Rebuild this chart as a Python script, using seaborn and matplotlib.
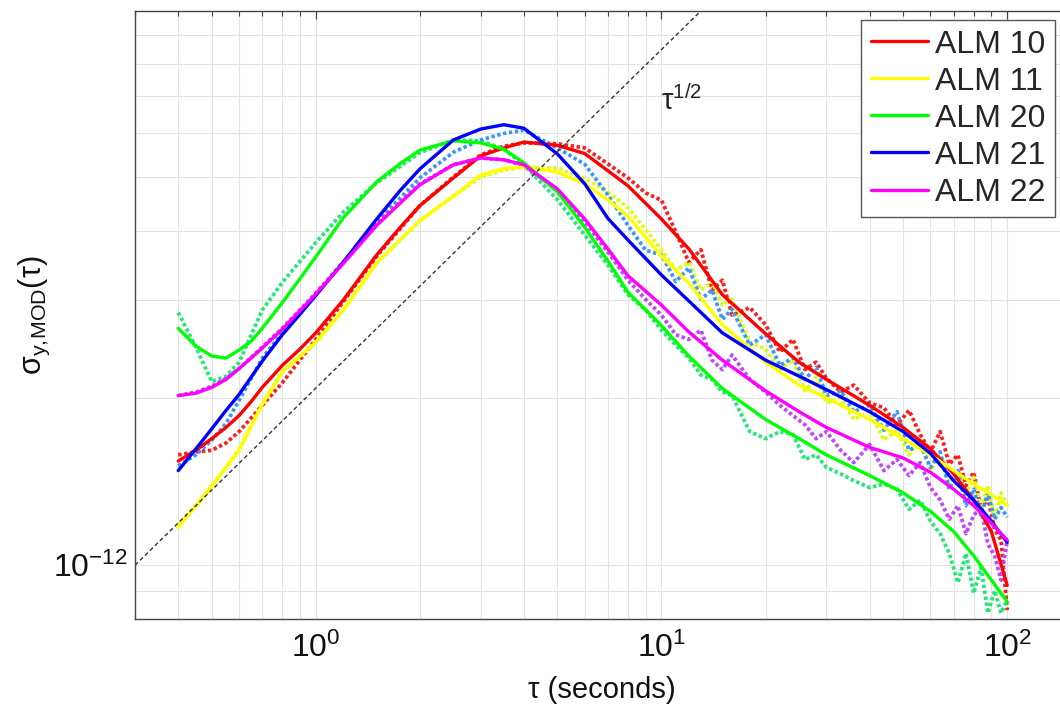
import numpy as np
import pandas as pd
import matplotlib
matplotlib.use("Agg")
import matplotlib.pyplot as plt
import seaborn as sns
from matplotlib.ticker import FixedLocator, LogLocator, NullFormatter
from matplotlib.lines import Line2D

sns.set_theme(style="white")
plt.rcParams['font.family'] = ['Liberation Sans', 'DejaVu Sans']
plt.rcParams['mathtext.fontset'] = 'custom'
plt.rcParams['mathtext.rm'] = 'Liberation Sans'
plt.rcParams['mathtext.it'] = 'Liberation Sans:italic'
plt.rcParams['mathtext.bf'] = 'Liberation Sans:bold'
plt.rcParams['axes.unicode_minus'] = False

# Model fits (sigma in units of 1e-12)
tau_fit = [0.4, 0.45, 0.5, 0.55, 0.6, 0.65, 0.7, 0.8, 0.9, 1.0, 1.2, 1.5, 1.75, 2, 2.5, 3, 3.5, 4,
           5, 6, 7, 8, 10, 12, 15, 20, 25, 30, 40, 50, 60, 70, 80, 90, 100]
fit_alm10 = [1.54, 1.61, 1.69, 1.77, 1.86, 1.97, 2.09, 2.29, 2.45, 2.62, 3.00, 3.62, 4.05, 4.44, 4.98,
             5.46, 5.64, 5.78, 5.70, 5.51, 5.13, 4.82, 4.20, 3.71, 3.07, 2.61, 2.32, 2.16, 1.94, 1.77,
             1.62, 1.46, 1.31, 1.15, 0.92]
fit_alm11 = [1.17, 1.28, 1.39, 1.50, 1.61, 1.78, 1.95, 2.23, 2.38, 2.52, 2.88, 3.50, 3.85, 4.17, 4.62,
             5.04, 5.18, 5.22, 5.10, 4.86, 4.55, 4.25, 3.60, 3.22, 2.71, 2.32, 2.11, 2.00, 1.83, 1.69,
             1.58, 1.48, 1.40, 1.34, 1.28]
fit_alm20 = [2.67, 2.48, 2.38, 2.36, 2.44, 2.53, 2.67, 2.97, 3.28, 3.59, 4.22, 4.90, 5.28, 5.59, 5.81,
             5.76, 5.61, 5.30, 4.70, 4.06, 3.53, 3.10, 2.70, 2.38, 2.08, 1.83, 1.69, 1.58, 1.45, 1.35,
             1.25, 1.15, 1.04, 0.94, 0.86]
fit_alm21 = [1.48, 1.62, 1.76, 1.90, 2.03, 2.18, 2.33, 2.60, 2.83, 3.06, 3.51, 4.20, 4.72, 5.17, 5.83,
             6.10, 6.21, 6.12, 5.50, 4.86, 4.21, 3.85, 3.33, 2.99, 2.62, 2.34, 2.19, 2.07, 1.89, 1.74,
             1.59, 1.42, 1.31, 1.20, 1.10]
fit_alm22 = [2.02, 2.04, 2.09, 2.16, 2.26, 2.36, 2.46, 2.66, 2.87, 3.08, 3.49, 4.09, 4.48, 4.84, 5.26,
             5.41, 5.37, 5.26, 4.76, 4.20, 3.71, 3.32, 2.94, 2.63, 2.34, 2.06, 1.89, 1.77, 1.63, 1.56,
             1.47, 1.37, 1.28, 1.19, 1.11]

# Measured data (sigma in units of 1e-12)
tau_meas = [0.4, 0.45, 0.5, 0.55, 0.6, 0.7, 0.8, 1, 1.2, 1.5, 2, 2.5, 3, 3.5, 4, 5, 6, 7, 8, 9,
            10, 11, 12, 13, 14, 15, 16, 18, 20, 22, 24, 26, 28, 30, 33, 36, 40, 44, 48, 52,
            56, 60, 64, 68, 72, 76, 80, 84, 88, 92, 96, 100]
meas_alm10 = [1.58, 1.60, 1.61, 1.66, 1.74, 1.94, 2.13, 2.55, 2.98, 3.60, 4.44, 5.00, 5.48, 5.68, 5.76,
              5.74, 5.64, 5.28, 4.98, 4.68, 4.54, 3.98, 3.51, 3.70, 3.13, 3.26, 2.82, 2.91, 2.71, 2.42,
              2.55, 2.25, 2.32, 2.17, 2.05, 2.11, 1.96, 1.92, 1.79, 1.90, 1.72, 1.60, 1.74, 1.52, 1.58,
              1.39, 1.47, 1.26, 1.32, 1.16, 1.11, 0.83]
meas_alm11 = [1.18, 1.28, 1.39, 1.50, 1.62, 1.95, 2.23, 2.52, 2.88, 3.50, 4.17, 4.62, 5.00, 5.15, 5.20,
              5.19, 4.97, 4.70, 4.40, 4.02, 3.70, 3.40, 3.51, 3.13, 3.24, 2.94, 3.01, 2.52, 2.45, 2.25,
              2.34, 2.06, 2.18, 1.96, 2.00, 1.83, 1.89, 1.68, 1.75, 1.58, 1.68, 1.48, 1.58, 1.41, 1.48,
              1.34, 1.44, 1.26, 1.39, 1.21, 1.35, 1.28]
meas_alm20 = [2.85, 2.47, 2.14, 2.19, 2.32, 2.88, 3.23, 3.81, 4.32, 4.88, 5.53, 5.83, 5.81, 5.61, 5.26,
              4.55, 3.93, 3.47, 3.07, 2.88, 2.65, 2.49, 2.36, 2.20, 2.16, 2.05, 2.02, 1.74, 1.69, 1.74,
              1.72, 1.55, 1.58, 1.50, 1.46, 1.42, 1.38, 1.40, 1.37, 1.26, 1.31, 1.20, 1.14, 1.05, 0.93,
              1.05, 0.89, 0.99, 0.82, 0.90, 0.82, 0.865]
meas_alm21 = [1.51, 1.58, 1.68, 1.80, 1.98, 2.36, 2.62, 3.07, 3.51, 4.15, 4.98, 5.54, 5.83, 5.99, 6.07,
              5.64, 5.27, 4.64, 4.09, 3.69, 3.62, 3.24, 3.43, 3.01, 3.13, 2.77, 2.89, 2.49, 2.60, 2.29,
              2.36, 2.16, 2.27, 2.02, 2.06, 1.89, 1.94, 1.75, 1.89, 1.61, 1.65, 1.50, 1.60, 1.37, 1.48,
              1.28, 1.37, 1.23, 1.35, 1.21, 1.27, 1.22]
meas_alm22 = [2.02, 2.05, 2.10, 2.17, 2.26, 2.47, 2.67, 3.09, 3.51, 4.12, 4.86, 5.26, 5.41, 5.37, 5.24,
              4.74, 4.15, 3.66, 3.26, 3.01, 2.82, 2.60, 2.55, 2.65, 2.34, 2.25, 2.39, 2.16, 2.05, 1.94,
              1.86, 1.79, 1.69, 1.74, 1.61, 1.53, 1.65, 1.48, 1.55, 1.45, 1.53, 1.38, 1.31, 1.21, 1.28,
              1.14, 1.23, 1.27, 1.09, 1.04, 0.94, 1.11]

# reference slope line
tau_ref = [0.3, 13.1]
sigma_ref = [1.0, 10.0]

labels = ["ALM 10", "ALM 11", "ALM 20", "ALM 21", "ALM 22"]
fits = [fit_alm10, fit_alm11, fit_alm20, fit_alm21, fit_alm22]
meas = [meas_alm10, meas_alm11, meas_alm20, meas_alm21, meas_alm22]
fit_colors = ["#ff0000", "#ffff00", "#00ff00", "#0000ff", "#ff00ff"]
meas_colors = ["#ff1c1c", "#d8ff10", "#22e878", "#3a96ff", "#bf45ff"]

fig = plt.figure(figsize=(10.6, 7.06), dpi=100)
ax = fig.add_axes([0.1274, 0.1232, 0.8802, 0.8612])
ax.set_xscale('log')
ax.set_yscale('log')

for m, c in zip(meas, meas_colors):
    sns.lineplot(x=tau_meas, y=np.array(m) * 1e-12, ax=ax, color=c, lw=2.7,
                 linestyle=(0, (0.9, 0.7)), estimator=None, sort=False)
for f, c in zip(fits, fit_colors):
    sns.lineplot(x=tau_fit, y=np.array(f) * 1e-12, ax=ax, color=c, lw=2.4,
                 estimator=None, sort=False)

sns.lineplot(x=tau_ref, y=np.array(sigma_ref) * 1e-12, ax=ax, color="#333333", lw=1.0,
             linestyle=(0, (3, 2)), estimator=None, sort=False)
ax.text(10.0, 6.6e-12, r"$\mathrm{τ}^{1/2}$", fontsize=21, color="#222222", ha="left", va="baseline")

ax.set_xlim(0.3, 150)
ax.set_ylim(0.8e-12, 9.95e-12)

ax.xaxis.set_major_locator(FixedLocator([1, 10, 100]))
ax.yaxis.set_major_locator(FixedLocator([1e-12]))
ax.xaxis.set_minor_locator(LogLocator(base=10, subs=np.arange(2, 10), numticks=30))
ax.yaxis.set_minor_locator(LogLocator(base=10, subs=np.arange(2, 10), numticks=30))
ax.xaxis.set_minor_formatter(NullFormatter())
ax.yaxis.set_minor_formatter(NullFormatter())

ax.grid(which='both', color='#e2e2e2', lw=0.8)
ax.set_axisbelow(True)
for s in ax.spines.values():
    s.set_color('#444444')
    s.set_linewidth(1.0)
ax.tick_params(which='both', direction='in', top=True, right=True, color='#444444',
               labelsize=23, labelcolor='#111111')
ax.tick_params(axis='x', which='major', pad=10)
ax.tick_params(axis='y', which='major', pad=5)
ax.tick_params(which='major', length=6, width=0.9)
ax.tick_params(which='minor', length=3.6, width=0.8)

ax.set_xlabel("τ (seconds)", fontsize=21, color='#111111')
ax.set_ylabel(r"$\mathrm{σ}_{\mathrm{y,\!MOD}}\mathrm{(τ)}$", fontsize=22, color='#111111')
ax.xaxis.set_label_coords(0.5, -0.093)
ax.yaxis.set_label_coords(-0.089, 0.5)

handles = [Line2D([], [], color=c, lw=2.4) for c in fit_colors]
leg = ax.legend(handles, labels, loc='upper right', bbox_to_anchor=(1055 / 1060, 1 - 20 / 706),
                bbox_transform=fig.transFigure, fontsize=23, frameon=True, fancybox=False,
                framealpha=1, edgecolor='#555555', handlelength=1.78, handletextpad=0.22,
                labelspacing=0.22, borderpad=0.3, borderaxespad=0)
leg.get_frame().set_linewidth(1.0)

fig.savefig("out.png", dpi=100)
